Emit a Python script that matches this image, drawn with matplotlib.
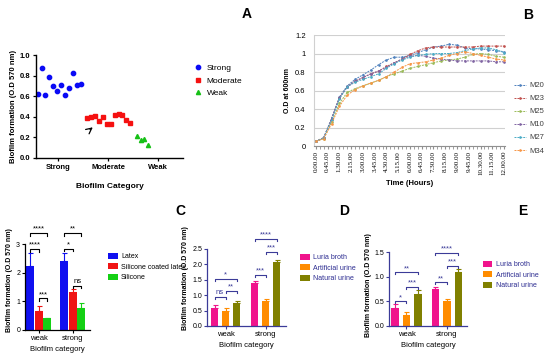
import numpy as np
import matplotlib
matplotlib.use("Agg")
import matplotlib.pyplot as plt

plt.rcParams['font.family'] = ['Liberation Sans', 'DejaVu Sans']

# ---------------- data ----------------
# panel A: biofilm formation per isolate
strong_vals = [0.62, 0.87, 0.61, 0.79, 0.70, 0.65, 0.71, 0.61, 0.68, 0.83, 0.71, 0.72]
moderate_vals = [0.39, 0.40, 0.41, 0.36, 0.40, 0.33, 0.33, 0.42, 0.43, 0.42, 0.37, 0.34]
weak_vals = [0.21, 0.17, 0.18, 0.13]
a_categories = ['Strong', 'Moderate', 'Weak']

# panel B: growth curves (every 30 min)
hours = [0, 0.5, 1, 1.5, 2, 2.5, 3, 3.5, 4, 4.5, 5, 5.5, 6, 6.5, 7, 7.5, 8, 8.5,
         9, 9.5, 10, 10.5, 11, 11.5, 12]
m20 = [.05, .09, .30, .53, .65, .72, .77, .82, .88, .93, .96, .96, .98, 1.01, 1.04, 1.07,
       1.08, 1.10, 1.09, 1.06, 1.05, 1.05, 1.04, 1.03, 1.02]
m23 = [.05, .09, .29, .52, .64, .70, .74, .78, .81, .86, .90, .94, .99, 1.03, 1.06, 1.07,
       1.07, 1.07, 1.07, 1.07, 1.07, 1.08, 1.08, 1.08, 1.08]
m25 = [.05, .08, .26, .46, .58, .62, .65, .68, .71, .75, .78, .81, .84, .86, .88, .90,
       .92, .93, .94, .96, .99, 1.00, .99, .97, .96]
m10 = [.05, .09, .29, .52, .64, .70, .74, .78, .81, .85, .90, .94, .97, .98, .97, .95,
       .94, .93, .92, .92, .92, .92, .92, .91, .91]
m27 = [.05, .09, .28, .51, .64, .69, .72, .75, .78, .84, .89, .93, .96, .98, .99, 1.00,
       1.00, 1.00, 1.01, 1.03, 1.05, 1.06, 1.06, 1.04, 1.01]
m34 = [.05, .08, .24, .43, .55, .61, .65, .68, .71, .75, .80, .85, .89, .90, .91, .93,
       .95, .98, 1.00, 1.02, 1.00, .98, .96, .94, .93]
strain_names = ['M20', 'M23', 'M25', 'M10', 'M27', 'M34']
time_labels = ['0.00.00', '0.45.00', '1.30.00', '2.15.00', '3.00.00', '3.45.00',
               '4.30.00', '5.15.00', '6.00.00', '6.45.00', '7.30.00', '8.15.00',
               '9.00.00', '9.45.00', '10.30.00', '11.15.00', '12.00.00']

# panel C: catheter materials
groups = ['weak', 'strong']
c_series = ['Latex', 'Silicone coated latex', 'Silicone']
c_means = [[2.22, 2.40], [0.68, 1.31], [0.42, 0.78]]
c_err = [[0.47, 0.28], [0.15, 0.11], [0.01, 0.15]]
c_sig = [(0, 0, 2, 3.38, '****'), (0, 0, 1, 2.82, '****'), (0, 1, 2, 1.10, '***'),
         (1, 0, 2, 3.38, '**'), (1, 0, 1, 2.84, '*'), (1, 1, 2, 1.55, 'ns')]

# panels D and E: media
media = ['Luria broth', 'Artificial urine', 'Natural urine']
d_means = [[0.57, 1.39], [0.48, 0.82], [0.75, 2.08]]
d_err = [[0.12, 0.07], [0.09, 0.05], [0.06, 0.07]]
d_sig = [(0, 0, 1, 0.95, 'ns'), (0, 1, 2, 1.15, '**'), (0, 0, 2, 1.53, '*'),
         (1, 0, 1, 1.65, '***'), (1, 1, 2, 2.40, '***'), (1, 0, 2, 2.83, '****')]
e_means = [[0.37, 0.75], [0.23, 0.50], [0.65, 1.09]]
e_err = [[0.08, 0.05], [0.06, 0.05], [0.08, 0.07]]
e_sig = [(0, 0, 1, 0.50, '*'), (0, 1, 2, 0.79, '***'), (0, 0, 2, 1.09, '**'),
         (1, 0, 1, 0.89, '**'), (1, 1, 2, 1.23, '***'), (1, 0, 2, 1.49, '****')]

W, H = 550, 359
fig = plt.figure(figsize=(5.5, 3.59), dpi=100)


def box(l, t, r, b):
    return [l / W, 1 - b / H, (r - l) / W, (b - t) / H]


# ---------------- A ----------------
ax = fig.add_axes(box(36, 55, 183, 158))
xs = np.arange(12)
ax.plot(xs, strong_vals, 'o', color='#0a0af5', ms=3.1, label='Strong')
ax.plot(12.6 + np.arange(12), moderate_vals, 's', color='#f51010', ms=3.0, label='Moderate')
ax.plot(25.2 + np.arange(4), weak_vals, '^', color='#16c016', ms=3.0, label='Weak')
ax.set_xlim(-0.4, 37)
ax.set_ylim(0, 1.0)
ax.set_yticks(np.arange(0, 1.01, 0.2))
ax.set_yticklabels(['%.1f' % v for v in np.arange(0, 1.01, 0.2)], fontweight='bold', fontsize=5.5)
ax.set_xticks([5.25, 18, 30.7])
ax.set_xticklabels(a_categories, fontweight='bold', fontsize=5.5)
for s in ['top', 'right']:
    ax.spines[s].set_visible(False)
for s in ['left', 'bottom']:
    ax.spines[s].set_linewidth(1.0)
ax.tick_params(length=2.5, width=0.9, pad=1.5)
ax.set_ylabel('Biofilm formation (O.D 570 nm)', fontweight='bold', fontsize=5.5, labelpad=2)
ax.set_xlabel('Biofilm Category', fontweight='bold', fontsize=6, labelpad=9)
ax.annotate('', xy=(14.6, 0.315), xytext=(12.8, 0.26),
            arrowprops=dict(arrowstyle='->', color='black', lw=0.9))
ax.legend(loc='upper left', bbox_to_anchor=(1.02, 0.98), frameon=False, fontsize=6,
          handletextpad=0.6, labelspacing=0.55, markerscale=1.0, handlelength=1.0)
fig.text(247 / W, 1 - 14 / H, 'A', fontsize=10, fontweight='bold', ha='center', va='center')

# ---------------- B ----------------
ax = fig.add_axes(box(314, 35, 505, 146))
colors_b = ['#4f81bd', '#c0504d', '#9bbb59', '#8064a2', '#4bacc6', '#f79646']
for name, vals, c in zip(strain_names, [m20, m23, m25, m10, m27, m34], colors_b):
    ax.plot(hours, vals, '--', color=c, lw=0.7, marker='.', ms=1.8, dashes=(2, 1), label=name)
ax.set_xlim(-0.12, 12.06)
ax.set_ylim(0, 1.2)
ax.set_yticks(np.arange(0, 1.21, 0.2))
ax.set_yticklabels(['0', '0.2', '0.4', '0.6', '0.8', '1', '1.2'], fontsize=5.5)
ax.yaxis.grid(True, color='#d0d0d0', lw=0.8)
ax.set_axisbelow(True)
ax.set_xticks(np.arange(0, 12.01, 0.75))
ax.set_xticklabels(time_labels, rotation=90, fontsize=5, family='Liberation Serif')
ax.set_xticks(np.arange(0, 12.01, 0.25), minor=True)
for s in ['top', 'right']:
    ax.spines[s].set_visible(False)
ax.spines['left'].set_color('#d0d0d0')
ax.spines['bottom'].set_color('#909090')
ax.tick_params(axis='y', length=0, pad=6)
ax.tick_params(axis='x', which='both', length=2, color='#909090', pad=1.5)
ax.set_ylabel('O.D at 600nm', fontweight='bold', fontsize=5, labelpad=3)
ax.set_xlabel('Time (Hours)', fontweight='bold', fontsize=5.5, labelpad=3)
ax.legend(loc='upper left', bbox_to_anchor=(1.01, 0.64), frameon=False, fontsize=5.5,
          handlelength=1.6, labelspacing=0.75, handletextpad=0.4, labelcolor='#404040')
fig.text(528 / W, 1 - 15 / H, 'B', fontsize=10, fontweight='bold', ha='center', va='center')


def bracket(ax, x1, x2, y, text, color, h, fs):
    ax.plot([x1, x1, x2, x2], [y - h, y, y, y - h], color=color, lw=0.8, clip_on=False)
    ax.text((x1 + x2) / 2, y + h * 0.2, text, ha='center', va='bottom', fontsize=fs,
            color=color, clip_on=False)


def bar_panel(rect, means, errs, sigs, colors, ylim, ytop, yticks, yfmt, off, width,
              xlim, axcol, sigcol, legend_names, leg_anchor, legcol, h):
    ax = fig.add_axes(rect)
    gx = np.arange(len(groups))
    for i, (m, e, c) in enumerate(zip(means, errs, colors)):
        x = gx + (i - 1) * off
        ax.bar(x, m, width=width, color=c, label=legend_names[i], zorder=2)
        ax.errorbar(x, m, yerr=[np.zeros(len(e)), e], fmt='none', ecolor=c, elinewidth=0.8,
                    capsize=1.8, capthick=0.8, zorder=1)
    for g, i, j, y, t in sigs:
        bracket(ax, g + (i - 1) * off, g + (j - 1) * off, y, t, sigcol, h, 5.5)
    ax.set_xlim(*xlim)
    ax.set_ylim(0, ylim)
    ax.spines['left'].set_bounds(0, ytop)
    for s in ['top', 'right']:
        ax.spines[s].set_visible(False)
    for s in ['left', 'bottom']:
        ax.spines[s].set_color(axcol)
        ax.spines[s].set_linewidth(0.9)
    ax.set_yticks(yticks)
    ax.set_yticklabels([yfmt % v for v in yticks], fontsize=5)
    ax.set_xticks(gx)
    ax.set_xticklabels(groups, fontsize=5.5)
    ax.tick_params(length=2, width=0.8, color=axcol, pad=1.5)
    ax.set_ylabel('Biofilm formation (O.D 570 nm)', fontweight='bold', fontsize=5, labelpad=2)
    ax.set_xlabel('Biofilm category', fontsize=5.5, labelpad=3)
    ax.legend(loc='upper left', bbox_to_anchor=leg_anchor, frameon=False, fontsize=5,
              handlelength=1.4, handleheight=0.9, labelspacing=0.45, handletextpad=0.5,
              labelcolor=legcol)
    return ax


# ---------------- C ----------------
bar_panel(box(25, 229.7, 90, 330), c_means, c_err, c_sig,
          ['#1010f0', '#f01414', '#14d014'], 3.5, 3, [0, 1, 2, 3], '%d',
          0.25, 0.235, (-0.41, 1.5), 'black', 'black', c_series, (1.18, 0.83), 'black', 0.1)
fig.text(180 / W, 1 - 211 / H, 'C', fontsize=10, fontweight='bold', ha='center', va='center')

# ---------------- D ----------------
bar_panel(box(207, 230.5, 286, 326), d_means, d_err, d_sig,
          ['#f0148c', '#ff8c00', '#808000'], 3.1, 2.5, np.arange(0, 2.51, 0.5), '%.1f',
          0.275, 0.19, (-0.4625, 1.5125), '#3b3b98', '#3b3b98', media, (1.1, 0.82),
          '#2b2b90', 0.07)
fig.text(344 / W, 1 - 211 / H, 'D', fontsize=10, fontweight='bold', ha='center', va='center')

# ---------------- E ----------------
bar_panel(box(389, 245, 467, 326), e_means, e_err, e_sig,
          ['#f0148c', '#ff8c00', '#808000'], 1.65, 1.5, np.arange(0, 1.51, 0.5), '%.1f',
          0.284, 0.185, (-0.432, 1.494), '#3b3b98', '#3b3b98', media, (1.12, 0.88),
          '#2b2b90', 0.04)
fig.text(523 / W, 1 - 211 / H, 'E', fontsize=10, fontweight='bold', ha='center', va='center')

fig.savefig('out.png', dpi=100)
